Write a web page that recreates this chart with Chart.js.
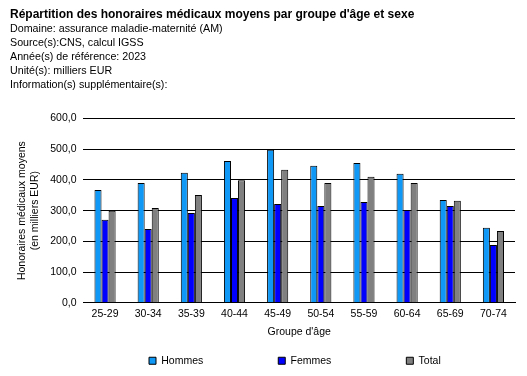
<!DOCTYPE html>
<html><head><meta charset="utf-8">
<script src="https://cdn.jsdelivr.net/npm/chart.js@4/dist/chart.umd.min.js"></script>
<style>html,body{margin:0;padding:0;background:#fff}#w{position:relative;width:527px;height:376px}</style>
</head><body><div id="w"><canvas id="c" width="527" height="376"></canvas></div>
<script>
const categories = ["25-29","30-34","35-39","40-44","45-49","50-54","55-59","60-64","65-69","70-74"];
const hommes = [367, 390, 423, 462, 498, 446, 455, 420, 335, 244];
const femmes = [270, 240, 292, 341, 322, 315, 328, 302, 315, 188];
const total  = [300, 309, 351, 399, 433, 390, 410, 390, 332, 234];
const seriesNames = ["Hommes","Femmes","Total"];
const titleText = "Répartition des honoraires médicaux moyens par groupe d'âge et sexe";
const subtitleLines = ["Domaine: assurance maladie-maternité (AM)","Source(s):CNS, calcul IGSS","Année(s) de référence: 2023","Unité(s): milliers EUR","Information(s) supplémentaire(s):"];
const yTitle = ["Honoraires médicaux moyens","(en milliers EUR)"];
const xTitle = "Groupe d'âge";

const FONT = "'Liberation Sans', Arial, sans-serif";
Chart.defaults.font.family = FONT;
Chart.defaults.color = "#000";

const LEG_PAD = 75;
const legendFix = {
  id: 'legendFix',
  beforeLayout(chart) {
    const lg = chart.legend;
    if (lg && !lg._patched) {
      const f = lg.fit.bind(lg);
      lg.fit = function () { f(); this.height = 30; };
      lg._patched = true;
    }
  },
  afterLayout(chart) {
    const lg = chart.legend;
    if (!lg) return;
    const W = lg.lineWidths[0];
    const width = lg.right - lg.left;
    const sum = 2 * 149 - LEG_PAD + W;
    lg.left = (sum - width) / 2;
    lg.right = lg.left + width;
    lg.top = 361 - 5.5 - LEG_PAD;
  }
};

new Chart(document.getElementById('c'), {
  type: 'bar',
  data: {
    labels: categories,
    datasets: [
      {label: seriesNames[0], data: hommes, backgroundColor: '#1098f7', borderColor: '#000', borderWidth: 1},
      {label: seriesNames[1], data: femmes, backgroundColor: '#0000ff', borderColor: '#000', borderWidth: 1},
      {label: seriesNames[2], data: total, backgroundColor: '#808080', borderColor: '#000', borderWidth: 1}
    ]
  },
  plugins: [legendFix],
  options: {
    responsive: false,
    animation: false,
    layout: {padding: {left: 10, right: 12, top: 7, bottom: 2}},
    datasets: {bar: {barPercentage: 1, categoryPercentage: 0.49}},
    plugins: {
      title: {display: true, text: titleText, align: 'start', font: {size: 12, weight: 'bold', family: FONT}, color: '#000', padding: {top: 0, bottom: 1}},
      subtitle: {display: true, text: subtitleLines, align: 'start', font: {size: 10.7, family: FONT, lineHeight: 1.31}, color: '#000', padding: {top: 0, bottom: 26}},
      legend: {position: 'bottom', align: 'center',
        labels: {boxWidth: 7, boxHeight: 7, padding: LEG_PAD, font: {size: 10.5, family: FONT}, color: '#000'}},
      tooltip: {enabled: false}
    },
    scales: {
      x: {
        grid: {display: false, drawTicks: false},
        border: {display: true, color: '#000', width: 1},
        ticks: {font: {size: 10.5, family: FONT}, color: '#000', padding: 5, maxRotation: 0},
        title: {display: true, text: xTitle, font: {size: 10.5, family: FONT}, color: '#000', padding: {top: 0, bottom: 6}}
      },
      y: {
        min: 0, max: 600,
        ticks: {stepSize: 100, font: {size: 10.5, family: FONT}, color: '#000', padding: 7,
          callback: v => v.toFixed(1).replace('.', ',')},
        grid: {color: '#000', lineWidth: 1, drawTicks: false},
        border: {display: false},
        title: {display: true, text: yTitle, font: {size: 10.5, family: FONT}, color: '#000', padding: {top: 6, bottom: 2}}
      }
    }
  }
});
</script></body></html>
